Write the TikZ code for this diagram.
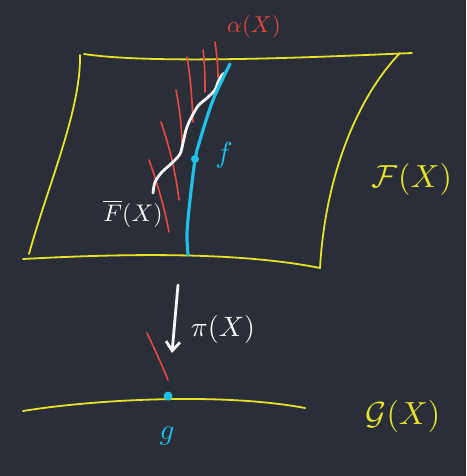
\documentclass[tikz,border=0pt]{standalone}
\usetikzlibrary{arrows.meta}
\definecolor{board}{RGB}{42,46,57}
\definecolor{chalkyellow}{RGB}{232,226,40}
\definecolor{chalkred}{RGB}{232,72,62}
\definecolor{chalkcyan}{RGB}{30,192,232}
\definecolor{chalkwhite}{RGB}{246,246,246}
\tikzset{
  sheet/.style={draw=chalkyellow, line width=1.8pt, line cap=round},
  fibre/.style={draw=chalkred, line width=1.6pt, line cap=round},
  sect/.style={draw=chalkcyan, line width=3.2pt, line cap=round},
  wavy/.style={draw=chalkwhite, line width=2.8pt, line cap=round},
  lab/.style={inner sep=0pt, transform shape},
}
\begin{document}
\begin{tikzpicture}[x=1pt,y=-1pt]
\fill[board] (0,0) rectangle (466,476);
\useasboundingbox (0,0) rectangle (466,476);
% the sheet F(X)
\draw[sheet] (84,54) .. controls (150,64) and (300,58) .. (412,53);
\draw[sheet] (80,55) .. controls (81,110) and (48,185) .. (29,254);
\draw[sheet] (23,259) .. controls (150,252) and (250,254) .. (320,268);
\draw[sheet] (400,53) .. controls (355,100) and (325,180) .. (320,268);
% red fibres alpha(X)
\draw[fibre] (187,57) .. controls (191,80) and (192,100) .. (193,122);
\draw[fibre] (203,50) .. controls (205,65) and (205,80) .. (205,92);
\draw[fibre] (215,42) .. controls (217,55) and (218,68) .. (218,77);
\draw[fibre] (176,90) .. controls (180,110) and (182,130) .. (182,147);
\draw[fibre] (161,122) .. controls (170,148) and (176,175) .. (179,200);
\draw[fibre] (149,160) .. controls (158,185) and (165,210) .. (169,232);
\draw[fibre] (147,333) .. controls (155,350) and (162,365) .. (168,380);
% white wavy curve
\draw[wavy] plot[smooth] coordinates {(153,193) (155,182) (162,172) (172,163) (180,154) (183,143) (186,130) (190,120) (198,106) (207,98) (215,90) (218,82) (222,75) (225,73)};
% cyan section f
\draw[sect] plot[smooth] coordinates {(230,64) (213,100) (200,140) (195,160) (190,200) (187,233) (188,255)};
\fill[chalkcyan] (195,159) circle (4pt);
% bottom line G(X)
\draw[sheet] (23,411) .. controls (90,400) and (220,392) .. (305,408);
\fill[chalkcyan] (168,396) circle (4.5pt);
% projection arrow
\coordinate (pitop) at (178,285);
\coordinate (pibot) at (172,353);
\draw[draw=chalkwhite, line width=2.8pt, line cap=round, -{Straight Barb[length=9pt,width=14pt]}] (pitop) -- (pibot);
% labels
\node[lab, text=chalkred, scale=2.3] (alpha) at (254,27) {$\alpha(X)$};
\node[lab, text=chalkwhite, scale=2.4] (Fbar) at (133,214) {$\overline{F}(X)$};
\node[lab, text=chalkcyan, scale=2.9] (flab) at (224,155) {$f$};
\node[lab, text=chalkyellow, scale=3.2] (Fcal) at (412,179) {$\mathcal{F}(X)$};
\node[lab, text=chalkwhite, scale=2.8] (pi) at (223,329) {$\pi(X)$};
\node[lab, text=chalkcyan, scale=2.9] (glab) at (167,436) {$g$};
\node[lab, text=chalkyellow, scale=3.2] (Gcal) at (403,416) {$\mathcal{G}(X)$};
\end{tikzpicture}
\end{document}
